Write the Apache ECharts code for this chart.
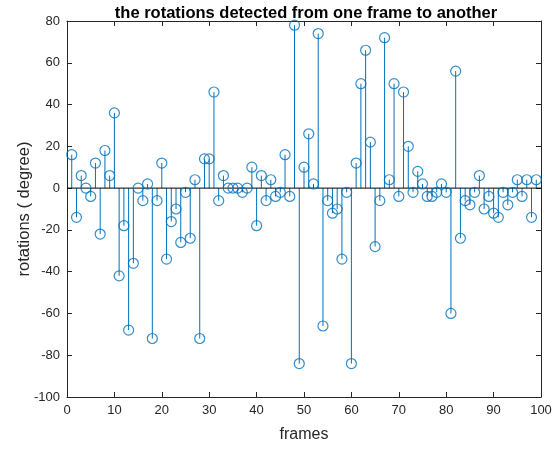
<!DOCTYPE html>
<html>
<head>
<meta charset="utf-8">
<script src="https://cdn.jsdelivr.net/npm/echarts@6/dist/echarts.min.js"></script>
<style>
html, body { margin: 0; padding: 0; background: #fff; }
#chart { width: 558px; height: 449px; }
</style>
</head>
<body>
<div id="chart"></div>
<script>
// rotation per frame (degree), frames 1..99
let rotations = [16, -14, 6, 0, -4, 12, -22, 18, 6, 36,
	-42, -18, -68, -36, 0, -6, 2, -72, -6, 12,
	-34, -16, -10, -26, -2, -24, 4, -72, 14, 14,
	46, -6, 6, 0, 0, 0, -2, 0, 10, -18,
	6, -6, 4, -4, -2, 16, -4, 78, -84, 10,
	26, 2, 74, -66, -6, -12, -10, -34, -2, -84,
	12, 50, 66, 22, -28, -6, 72, 4, 50, -4,
	46, 20, -2, 8, 2, -4, -4, -2, 2, -2,
	-60, 56, -24, -6, -8, -2, 6, -10, -4, -12,
	-14, -2, -8, -2, 4, -4, 4, -14, 4];
let frames = [];
for (let i = 0; i < rotations.length; i++) {
	frames.push(i + 1);
}
let xTicks = [0, 100, 10];
let yTicks = [-100, 80, 20];

let points = [];
for (i in frames) {
	points.push([frames[i], rotations[i]]);
}

let blue = '#0072BD';
let axisCol = '#262626';
let font = 'Liberation Sans, Arial, sans-serif';

let chart = echarts.init(document.getElementById('chart'), null, { renderer: 'canvas' });
let option = {
	animation: false,
	backgroundColor: '#fff',
	title: {
		text: 'the rotations detected from one frame to another',
		left: 301,
		top: 0,
		textAlign: 'center',
		textStyle: { fontFamily: font, fontSize: 16.5, fontWeight: 'bold', color: '#000' }
	},
	grid: { left: 67, right: 17, top: 21, bottom: 52, outerBoundsMode: 'none', containLabel: false },
	xAxis: [{
		type: 'value',
		min: xTicks[0], max: xTicks[1], interval: xTicks[2],
		position: 'bottom',
		name: 'frames',
		nameLocation: 'middle',
		nameGap: 30,
		nameMoveOverlap: false,
		nameTextStyle: { fontFamily: font, fontSize: 16, color: axisCol },
		axisLine: { onZero: false, lineStyle: { color: axisCol, width: 1 } },
		axisTick: { inside: true, length: 5, lineStyle: { color: axisCol } },
		axisLabel: { fontFamily: font, fontSize: 13, color: axisCol, margin: 7 },
		splitLine: { show: false }
	}, {
		type: 'value',
		min: xTicks[0], max: xTicks[1], interval: xTicks[2],
		position: 'top',
		axisLine: { onZero: false, lineStyle: { color: axisCol, width: 1 } },
		axisTick: { inside: true, length: 5, lineStyle: { color: axisCol } },
		axisLabel: { show: false },
		splitLine: { show: false }
	}],
	yAxis: [{
		type: 'value',
		min: yTicks[0], max: yTicks[1], interval: yTicks[2],
		position: 'left',
		name: 'rotations ( degree)',
		nameLocation: 'middle',
		nameGap: 34,
		nameMoveOverlap: false,
		nameTextStyle: { fontFamily: font, fontSize: 16.5, color: axisCol },
		axisLine: { onZero: false, lineStyle: { color: axisCol, width: 1 } },
		axisTick: { inside: true, length: 5, lineStyle: { color: axisCol } },
		axisLabel: { fontFamily: font, fontSize: 13, color: axisCol, margin: 7 },
		splitLine: { show: false }
	}, {
		type: 'value',
		min: yTicks[0], max: yTicks[1], interval: yTicks[2],
		position: 'right',
		axisLine: { onZero: false, lineStyle: { color: axisCol, width: 1 } },
		axisTick: { inside: true, length: 5, lineStyle: { color: axisCol } },
		axisLabel: { show: false },
		splitLine: { show: false }
	}],
	series: [{
		// stems
		type: 'custom',
		xAxisIndex: 0,
		yAxisIndex: 0,
		data: points,
		renderItem: function (params, api) {
			let p0 = api.coord([api.value(0), 0]);
			let p1 = api.coord([api.value(0), api.value(1)]);
			return {
				type: 'line',
				shape: { x1: p0[0], y1: p0[1], x2: p1[0], y2: p1[1] },
				style: { stroke: blue, lineWidth: 1 }
			};
		},
		z: 2
	}, {
		// baseline
		type: 'line',
		xAxisIndex: 0,
		yAxisIndex: 0,
		data: [[xTicks[0], 0], [xTicks[1], 0]],
		symbol: 'none',
		lineStyle: { color: '#000', width: 1 },
		z: 3
	}, {
		type: 'scatter',
		xAxisIndex: 0,
		yAxisIndex: 0,
		data: points,
		symbol: 'circle',
		symbolSize: 10,
		itemStyle: { color: 'rgba(0,0,0,0)', borderColor: blue, borderWidth: 1.2 },
		z: 4
	}]
};
chart.setOption(option);
</script>
</body>
</html>
